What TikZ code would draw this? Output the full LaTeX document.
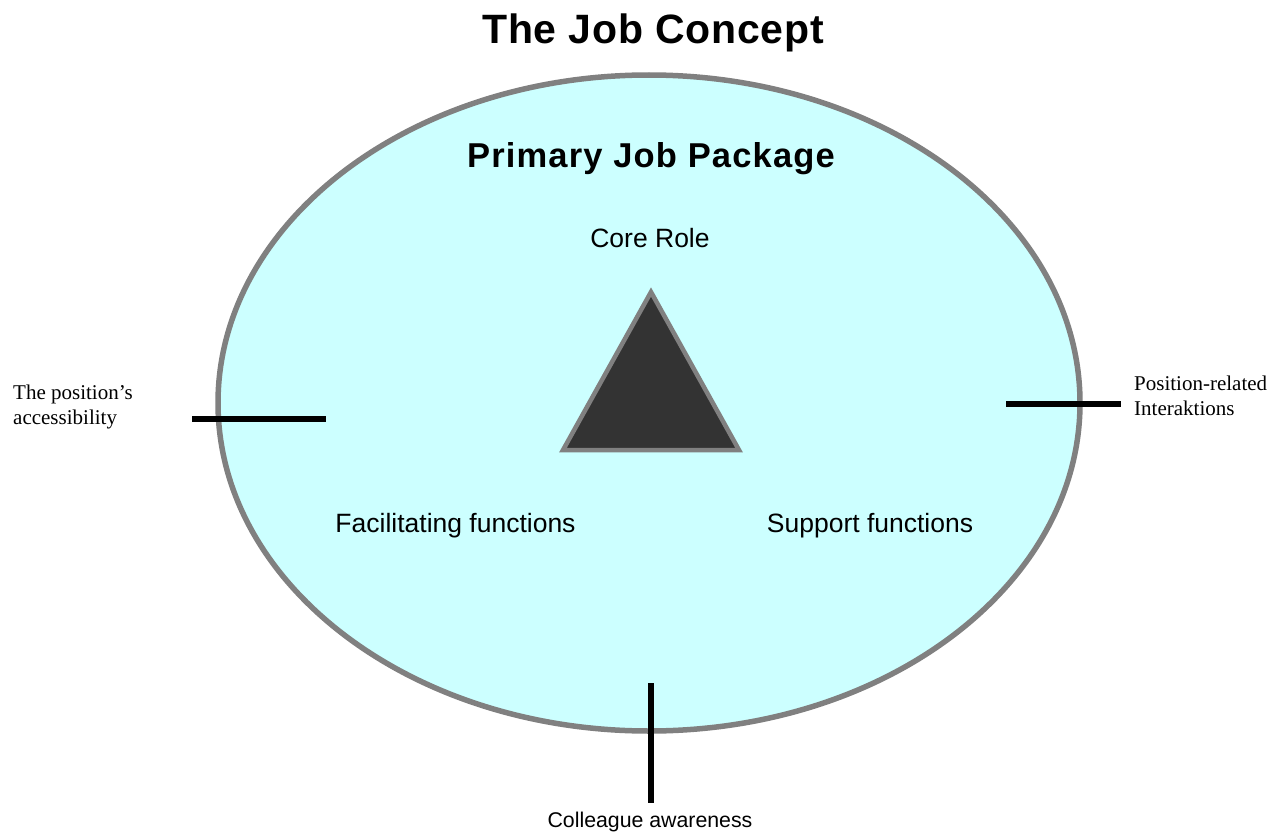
\documentclass[tikz,border=0pt]{standalone}
\usepackage{fontspec}
\setmainfont{Liberation Sans}
\newfontfamily\serifface{Liberation Serif}
\newfontfamily\titleface[LetterSpace=1.8]{Liberation Sans}
\newfontfamily\headface[LetterSpace=3.4]{Liberation Sans}
\begin{document}
\begin{tikzpicture}[x=1pt,y=-1pt,
  titletext/.style={font=\titleface\fontsize{41}{46}\selectfont\bfseries, inner sep=0pt, anchor=base},
  headtext/.style={font=\headface\fontsize{34.5}{39}\selectfont\bfseries, inner sep=0pt, anchor=base},
  bodytext/.style={font=\fontsize{26.5}{30}\selectfont, inner sep=0pt, anchor=base},
  smalltext/.style={font=\fontsize{21.3}{24}\selectfont, inner sep=0pt, anchor=base},
  sidetext/.style={font=\serifface\fontsize{21}{25.5}\selectfont, inner sep=0pt, anchor=north west, align=left},
  tick/.style={line width=5.5pt, black},
]
\useasboundingbox (0,0) rectangle (1284,832);
\definecolor{pkgfill}{HTML}{CCFFFF}
\definecolor{rimgray}{HTML}{808080}
\definecolor{coredark}{HTML}{333333}

\node[titletext] (title) at (653,43.5) {The Job Concept};

\draw[rimgray, line width=5.5pt, fill=pkgfill] (649,403) ellipse [x radius=431, y radius=328];
\coordinate (pkg) at (649,403);

\node[headtext] (primary) at (651,167.5) {Primary Job Package};
\node[bodytext] (core) at (650,247) {Core Role};

\coordinate (apex) at (651,292);
\coordinate (bl) at (563,450);
\coordinate (br) at (739,450);
\draw[rimgray, line width=4.5pt, fill=coredark, line join=miter] (apex) -- (bl) -- (br) -- cycle;

\node[bodytext] (facil) at (455.5,532.5) {Facilitating functions};
\node[bodytext] (support) at (870,532.5) {Support functions};

\coordinate (la) at (192,419);
\coordinate (lb) at (326,419);
\draw[tick] (la) -- (lb);
\node[sidetext] (access) at (13,384.7) {The position’s\\accessibility};

\coordinate (ra) at (1006,404);
\coordinate (rb) at (1121,404);
\draw[tick] (ra) -- (rb);
\node[sidetext] (interact) at (1134,375.7) {Position-related\\Interaktions};

\coordinate (ba) at (651,683);
\coordinate (bb) at (651,803);
\draw[tick] (ba) -- (bb);
\node[smalltext] (colleague) at (650,827) {Colleague awareness};
\end{tikzpicture}
\end{document}
